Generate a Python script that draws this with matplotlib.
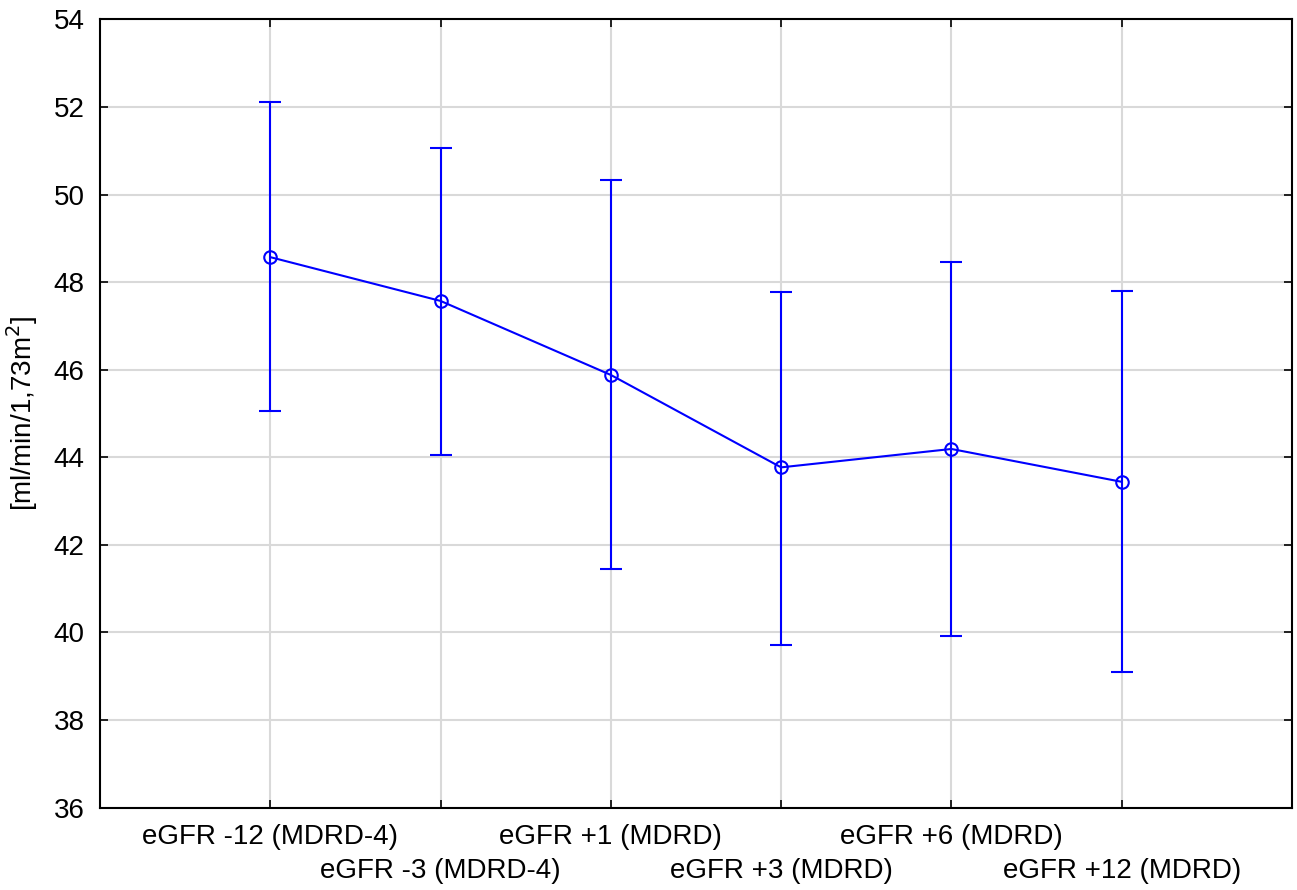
import matplotlib
matplotlib.use('Agg')
import matplotlib.pyplot as plt

plt.rcParams['font.family'] = ['Liberation Sans', 'DejaVu Sans']

labels = ['eGFR -12 (MDRD-4)', 'eGFR -3 (MDRD-4)', 'eGFR +1 (MDRD)',
          'eGFR +3 (MDRD)', 'eGFR +6 (MDRD)', 'eGFR +12 (MDRD)']
means = [48.57, 47.57, 45.88, 43.77, 44.19, 43.44]
upper = [52.11, 51.06, 50.33, 47.78, 48.46, 47.80]
lower = [45.06, 44.05, 41.45, 39.72, 39.92, 39.10]

x = list(range(1, len(labels) + 1))
err = [[m - l for m, l in zip(means, lower)], [u - m for m, u in zip(means, upper)]]

fig = plt.figure(figsize=(12.97, 8.90), dpi=100)
ax = fig.add_axes([0.0771, 0.0925, 0.919, 0.8858])

ax.errorbar(x, means, yerr=err, color='#0000ff', lw=1.5, elinewidth=1.5,
            capsize=8, capthick=1.5, marker='o', markersize=9,
            markerfacecolor='none', markeredgecolor='#0000ff', markeredgewidth=1.5)

ax.set_xlim(0, 7)
ax.set_ylim(36, 54)
ax.set_yticks(range(36, 55, 2))
ax.set_xticks(x)
ax.set_xticklabels(labels, fontsize=20)
ax.tick_params(axis='y', labelsize=20, pad=11)
ax.tick_params(direction='in', top=True, right=True, length=6, width=1.2, color='black')
# staggered labels: every second one goes one row lower
for i, t in enumerate(ax.xaxis.get_major_ticks()):
    t.set_pad(12 if i % 2 == 0 else 36)
ax.grid(True, color='#d9d9d9', lw=1.5)
ax.set_axisbelow(True)
for s in ax.spines.values():
    s.set_linewidth(1.5)
ax.set_ylabel('[ml/min/1,73m$^2$]', fontsize=20, labelpad=10)

fig.savefig('out.png', dpi=100)
